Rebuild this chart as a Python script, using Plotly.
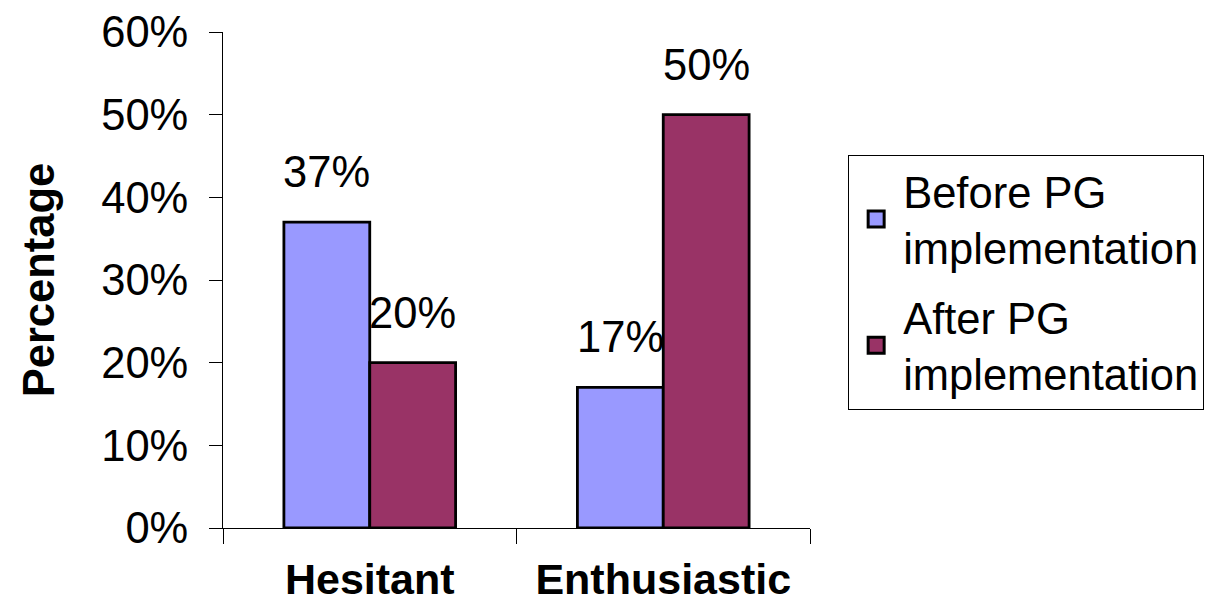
import plotly.graph_objects as go

categories = ["Hesitant", "Enthusiastic"]
before_vals = [0.37, 0.17]
after_vals = [0.20, 0.50]
series_names = ["Before PG<br>implementation", "After PG<br>implementation"]
colors = ["#9999FF", "#993366"]
y_ticks = [0, 0.1, 0.2, 0.3, 0.4, 0.5, 0.6]
y_ticktext = ["0%", "10%", "20%", "30%", "40%", "50%", "60%"]

FONT = "Arial, Liberation Sans, sans-serif"
FS = 43.5
BARGAP = 0.415

fig = go.Figure()
for s, vals in enumerate([before_vals, after_vals]):
    fig.add_trace(go.Bar(x=categories, y=vals, name=series_names[s], showlegend=False,
                         marker=dict(color=colors[s], line=dict(color="black", width=2.8))))
# legend entries with larger square swatches
for s in range(2):
    fig.add_trace(go.Scatter(x=[None], y=[None], mode="markers", name=series_names[s],
                             legendgroup=f"g{s}",
                             marker=dict(symbol="square", size=24, color=colors[s],
                                         line=dict(color="black", width=3))))

# data labels above bars
bw = (1 - BARGAP) / 2
for s, vals in enumerate([before_vals, after_vals]):
    off = -bw / 2 if s == 0 else bw / 2
    for i, v in enumerate(vals):
        fig.add_annotation(x=i + off, y=v, xref="x", yref="y",
                           text=f"{round(v*100)}%", showarrow=False,
                           yanchor="bottom", yshift=24,
                           font=dict(family=FONT, size=FS, color="black"))

fig.update_layout(
    width=1217, height=606,
    margin=dict(l=223, r=407, t=32, b=78, autoexpand=False),
    paper_bgcolor="white", plot_bgcolor="white",
    barmode="group", bargap=BARGAP, bargroupgap=0,
    font=dict(family=FONT, size=FS, color="black"),
    showlegend=True,
    legend=dict(x=1.065, y=0.752, xanchor="left", yanchor="top",
                bordercolor="black", borderwidth=1,
                font=dict(family=FONT, size=FS, color="black"),
                traceorder="grouped", tracegroupgap=10, itemsizing="trace",
                itemwidth=44),
)
fig.update_xaxes(showline=True, linecolor="black", linewidth=1,
                 ticks="outside", tickson="boundaries", ticklen=15, tickcolor="black",
                 tickfont=dict(family=FONT, size=43, color="black", weight="bold"),
                 ticklabelstandoff=13, showgrid=False, automargin=False)
fig.update_yaxes(range=[0, 0.6], tickvals=y_ticks, ticktext=y_ticktext,
                 showline=True, linecolor="black", linewidth=1,
                 ticks="outside", ticklen=13, tickcolor="black",
                 tickfont=dict(family=FONT, size=FS, color="black"),
                 ticklabelstandoff=12,
                 showgrid=False, zeroline=False, automargin=False,
                 title=dict(text="<b>Percentage</b>", font=dict(family=FONT, size=FS, color="black"),
                            standoff=32))

fig.write_html("out.html")
